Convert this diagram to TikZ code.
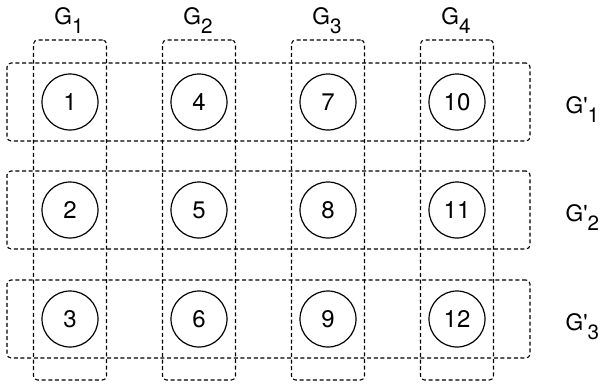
\documentclass[tikz,border=0pt]{standalone}
\usepackage{fontspec}
\setmainfont{TeX Gyre Heros}
\usetikzlibrary{positioning}
\newcommand{\gsub}[2]{#1\raisebox{-7pt}{\fontsize{15.5}{16}\selectfont #2}}

\begin{document}
\begin{tikzpicture}[x=0.75pt,y=-0.75pt,font=\fontsize{17}{20}\selectfont,
  vert/.style={circle,draw,line width=0.9pt,minimum size=42pt,inner sep=0pt,font=\fontsize{18}{20}\selectfont},
  grpbox/.style={draw,dash pattern=on 3pt off 2pt,line width=0.8pt,rounded corners=3pt,inner sep=0pt,outer sep=0pt}]
\useasboundingbox (0,0) rectangle (600,383);
% column groups G_i
\foreach \c/\x in {1/70,2/199,3/328,4/457}{
  \node[grpbox,minimum width=54.75pt,minimum height=255pt] (col\c) at (\x,210) {};
  \node[anchor=base] (lg\c) at (\x-1,24) {\gsub{G}{\c}};
}
% row groups G'_j
\foreach \r/\y in {1/102,2/210,3/319}{
  \node[grpbox,minimum width=392.25pt,minimum height=58.5pt] (row\r) at (268.5,\y) {};
  \node[anchor=base west] (lr\r) at (561,\y+11) {\gsub{G\textquotesingle}{\r}};
}
% vertices
\foreach \c/\x in {1/70,2/199,3/328,4/457}{
  \foreach \r/\y in {1/102,2/210,3/319}{
    \pgfmathtruncatemacro{\n}{3*(\c-1)+\r}
    \node[vert] (v\n) at (\x,\y) {\n};
  }
}
\end{tikzpicture}
\end{document}
